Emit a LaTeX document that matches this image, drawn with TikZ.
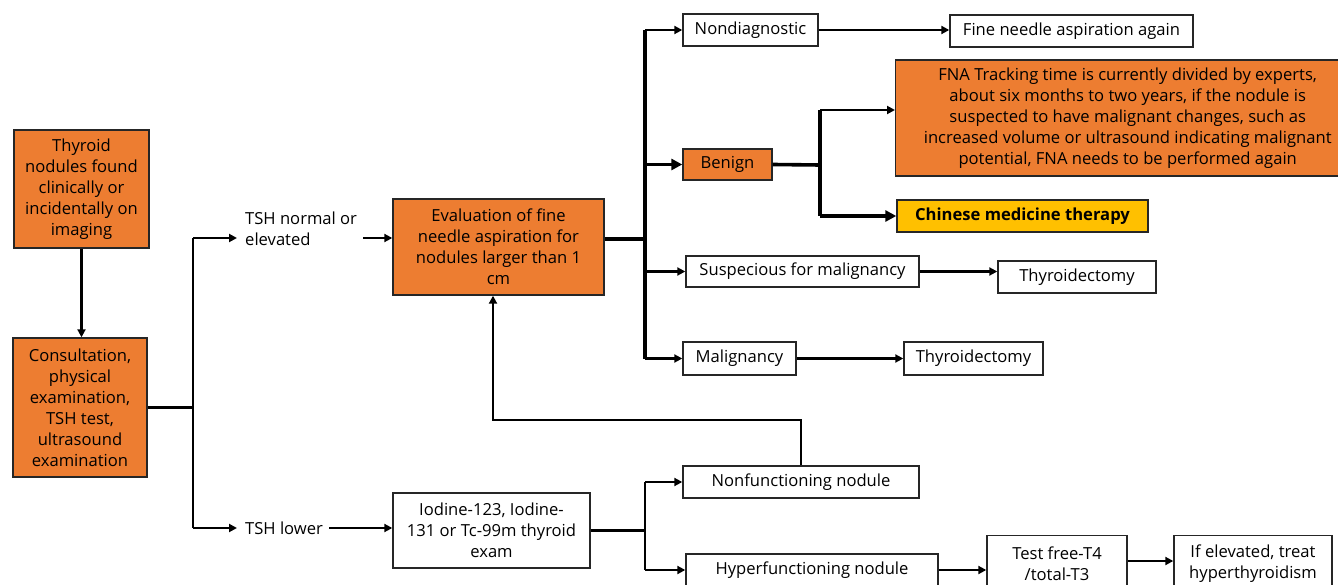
\documentclass[tikz,border=0pt]{standalone}
\usepackage{fontspec}
\setmainfont{Open Sans}
\usetikzlibrary{arrows.meta}
\definecolor{org}{HTML}{ED7D31}
\definecolor{yel}{HTML}{FFC000}
\begin{document}
\begin{tikzpicture}[x=1pt,y=-1pt,
  font=\fontsize{16.6}{21}\selectfont,
  box/.style={draw=black!85, line width=1.4pt, inner sep=0pt, align=center, fill=white},
  obox/.style={box, fill=org},
  ybox/.style={box, fill=yel, font=\fontsize{16.6}{21}\selectfont\bfseries},
  lbl/.style={inner sep=0pt, align=left},
  ln/.style={line width=2.4pt},
  thk/.style={line width=3.6pt},
  arr/.style={ln, -{Triangle[length=8pt,width=8pt]}},
  tarr/.style={thk, -{Triangle[length=11pt,width=11pt]}}]
\useasboundingbox (0,0) rectangle (1338,585);
\clip (0,0) rectangle (1338,585);
% nodes
\node[obox, minimum width=135pt, minimum height=118pt] (thy) at (81.5,189) {Thyroid\\nodules found\\clinically or\\incidentally on\\imaging};
\node[obox, minimum width=134pt, minimum height=139pt] (cons) at (80,407.5) {Consultation,\\physical\\examination,\\TSH test,\\ultrasound\\examination};
\node[lbl, anchor=west] (tshn) at (245,229) {TSH normal or\\elevated};
\node[lbl, anchor=west] (tshl) at (245,528) {TSH lower};
\node[obox, minimum width=211pt, minimum height=96pt] (eval) at (498.5,247) {Evaluation of fine\\needle aspiration for\\nodules larger than 1\\cm};
\node[box, minimum width=135pt, minimum height=32pt] (nond) at (750.5,30) {Nondiagnostic};
\node[box, minimum width=243pt, minimum height=32pt] (fnaa) at (1071.5,31) {Fine needle aspiration again};
\node[obox, minimum width=89pt, minimum height=31pt] (ben) at (727.5,164.5) {Benign};
\node[obox, minimum width=464pt, minimum height=116pt, anchor=west] (fna) at (895,118) {FNA Tracking time is currently divided by experts,\\about six months to two years, if the nodule is\\suspected to have malignant changes, such as\\increased volume or ultrasound indicating malignant\\potential, FNA needs to be performed again};
\node[ybox, minimum width=251pt, minimum height=32pt] (cmt) at (1022.5,216) {Chinese medicine therapy};
\node[box, minimum width=233pt, minimum height=31pt] (susp) at (802.5,271.5) {Suspecious for malignancy};
\node[box, minimum width=158pt, minimum height=32pt] (thy1) at (1077,277) {Thyroidectomy};
\node[box, minimum width=113pt, minimum height=33pt] (mal) at (739.5,358.5) {Malignancy};
\node[box, minimum width=139pt, minimum height=33pt] (thy2) at (973.5,358.5) {Thyroidectomy};
\node[box, minimum width=197pt, minimum height=75pt] (iod) at (491.5,530.5) {Iodine-123, Iodine-\\131 or Tc-99m thyroid\\exam};
\node[box, minimum width=236pt, minimum height=32pt] (nonf) at (801,482) {Nonfunctioning nodule};
\node[box, minimum width=252pt, minimum height=32pt] (hyp) at (812,570) {Hyperfunctioning nodule};
\node[box, minimum width=140pt, minimum height=56pt, anchor=north] (test) at (1057,535) {Test free-T4\\/total-T3};
\node[box, minimum width=158pt, minimum height=56pt, anchor=north] (ifel) at (1253,535) {If elevated, treat\\hyperthyroidism};
% coordinates
\coordinate (j1t) at (193,238);
\coordinate (j1b) at (193,528);
\coordinate (v1) at (645,239);
\coordinate (v2) at (820,165);
\coordinate (v3) at (645,530.5);
\coordinate (lp) at (493,420);
% connectors
\draw[arr] (thy.south) -- (thy.south |- cons.north);
\draw[ln] (cons.east) -- (cons.east -| j1t);
\draw[ln] (j1t) -- (j1b);
\draw[arr] (j1t) -- ([xshift=-8pt,yshift=-9pt]tshn.west);
\draw[arr] (j1b) -- ([xshift=-8pt]tshl.west);
\draw[arr] ([xshift=6pt,yshift=-9pt]tshn.east) -- ([yshift=9pt]eval.west);
\draw[arr] ([xshift=6pt]tshl.east) -- (tshl.east -| iod.west);
\draw[thk] ([yshift=8pt]eval.east) -- (v1);
\draw[thk] (v1 |- nond.west) -- (v1 |- mal.west);
\draw[arr] (v1 |- nond.west) -- (nond.west);
\draw[tarr] (v1 |- ben.west) -- (ben.west);
\draw[arr] (v1 |- susp.west) -- (susp.west);
\draw[arr] (v1 |- mal.west) -- (mal.west);
\draw[arr] (nond.east) -- (nond.east -| fnaa.west);
\draw[thk] (ben.east) -- (v2);
\draw[thk] (v2 |- 0,110) -- (v2 |- cmt.west);
\draw[arr] (v2 |- 0,110) -- (fna.west |- 0,110);
\draw[tarr] (v2 |- cmt.west) -- (cmt.west);
\draw[arr] (susp.east) -- (susp.east -| thy1.west);
\draw[arr] (mal.east) -- (mal.east -| thy2.west);
\draw[arr] (nonf.north) |- (lp) -- (lp |- eval.south);
\draw[ln] (iod.east) -- (v3);
\draw[ln] (v3 |- nonf.west) -- (v3 |- hyp.west);
\draw[arr] (v3 |- nonf.west) -- (nonf.west);
\draw[arr] (v3 |- hyp.west) -- (hyp.west);
\draw[arr] (hyp.east) -- (hyp.east -| test.west);
\draw[arr] (test.east |- 0,561) -- (ifel.west |- 0,561);
\end{tikzpicture}
\end{document}
